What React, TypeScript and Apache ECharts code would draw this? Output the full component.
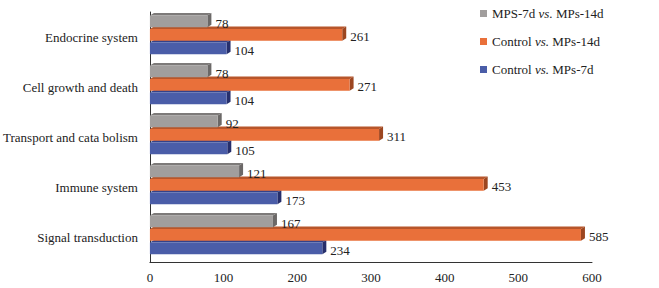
import React, { useEffect, useRef } from "react";
import * as echarts from "echarts";

const categories = [
  "Endocrine system",
  "Cell growth and death",
  "Transport and cata bolism",
  "Immune system",
  "Signal transduction",
];
const seriesNames = ["MPS-7d vs. MPs-14d", "Control vs. MPs-14d", "Control vs. MPs-7d"];
const grayValues = [78, 78, 92, 121, 167];
const orangeValues = [261, 271, 311, 453, 585];
const blueValues = [104, 104, 105, 173, 234];
const xTicks = { min: 0, max: 600, interval: 100 };

const FONT = "'Liberation Serif', 'Times New Roman', serif";

const palettes = [
  { front: "#A19E9D", top: "#7D7A79", side: "#6B6867" },
  { front: "#E9703A", top: "#B8562B", side: "#9C4620" },
  { front: "#4A5DA8", top: "#34428A", side: "#262F6C" },
];

function makeSeries(name: string, values: number[], slotIndex: number) {
  const pal = palettes[slotIndex];
  return {
    type: "custom",
    name,
    itemStyle: { color: pal.front },
    encode: { x: 0, y: 1 },
    clip: false,
    data: values.map((v, i) => [v, i]),
    renderItem: (params: any, api: any) => {
      const v = api.value(0);
      const cat = api.value(1);
      const end = api.coord([v, cat]);
      const start = api.coord([0, cat]);
      const band = api.size([0, 1])[1];
      const c = end[1];
      const slot = band * 0.27;
      const fh = band * 0.235;
      const dy = 2.5;
      const dx = 4;
      const ft = c - band * 0.43 + slotIndex * slot;
      const fb = ft + fh;
      const x0 = start[0];
      const xe = end[0];
      return {
        type: "group",
        children: [
          {
            type: "polygon",
            shape: { points: [[x0, ft], [x0 + dx, ft - dy], [xe + dx, ft - dy], [xe, ft]] },
            style: { fill: pal.top },
          },
          {
            type: "polygon",
            shape: { points: [[xe, ft], [xe + dx, ft - dy], [xe + dx, fb - dy], [xe, fb]] },
            style: { fill: pal.side },
          },
          {
            type: "rect",
            shape: { x: x0, y: ft, width: xe - x0, height: fh },
            style: { fill: pal.front },
          },
          {
            type: "text",
            style: {
              text: String(v),
              x: xe + dx + 4,
              y: (ft + fb) / 2 + 2,
              verticalAlign: "middle",
              align: "left",
              fill: "#222",
              font: `13px ${FONT}`,
            },
          },
        ],
      };
    },
  };
}

export default function App() {
  const ref = useRef<HTMLDivElement>(null);
  useEffect(() => {
    if (!ref.current) return;
    const chart = echarts.init(ref.current, null, { renderer: "svg" });
    chart.setOption({
      animation: false,
      backgroundColor: "#ffffff",
      grid: { left: 147, right: 67, top: 12, bottom: 26, containLabel: false },
      legend: {
        orient: "vertical",
        left: 475,
        top: 2,
        icon: "rect",
        itemWidth: 7,
        itemHeight: 7,
        itemGap: 15,
        data: seriesNames,
        formatter: (name: string) => name.replace(" vs. ", " {i|vs.} "),
        textStyle: {
          fontFamily: FONT,
          fontSize: 13,
          color: "#222",
          rich: {
            i: { fontStyle: "italic", fontFamily: FONT, fontSize: 13, color: "#222" },
          },
        },
      },
      xAxis: {
        type: "value",
        min: xTicks.min,
        max: xTicks.max,
        interval: xTicks.interval,
        axisLine: { show: true, lineStyle: { color: "#333", width: 1 } },
        axisTick: { show: false },
        splitLine: { show: false },
        axisLabel: { color: "#222", fontFamily: FONT, fontSize: 13, margin: 9 },
      },
      yAxis: {
        type: "category",
        data: categories,
        inverse: true,
        axisLine: { show: true, lineStyle: { color: "#333", width: 1 } },
        axisTick: { show: false },
        axisLabel: { color: "#222", fontFamily: FONT, fontSize: 13, margin: 12 },
      },
      series: [
        makeSeries(seriesNames[2], blueValues, 2),
        makeSeries(seriesNames[1], orangeValues, 1),
        makeSeries(seriesNames[0], grayValues, 0),
      ],
    });
    return () => chart.dispose();
  }, []);
  return (
    <div
      ref={ref}
      style={{ position: "fixed", left: 0, top: 0, width: 659, height: 288, background: "#fff" }}
    />
  );
}
